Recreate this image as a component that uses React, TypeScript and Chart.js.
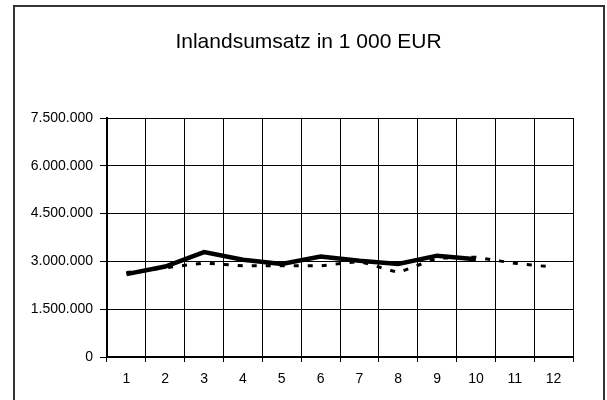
import React, { useEffect, useRef } from "react";
import { Chart, registerables } from "chart.js";

Chart.register(...registerables);

const titleText = "Inlandsumsatz in 1 000 EUR";
const months = ["1", "2", "3", "4", "5", "6", "7", "8", "9", "10", "11", "12"];
const seriesCurrent = [2600000, 2840000, 3290000, 3050000, 2920000, 3150000, 3020000, 2920000, 3180000, 3070000, null, null];
const seriesPrevious = [2650000, 2800000, 2950000, 2860000, 2860000, 2860000, 3000000, 2650000, 3100000, 3130000, 2940000, 2820000];
const yMin = 0;
const yMax = 7500000;
const yStep = 1500000;

const fmt = (v: number) => String(Math.round(v)).replace(/\B(?=(\d{3})+(?!\d))/g, ".");

const FONT = "'Liberation Sans', Arial, sans-serif";

const titlePlugin = {
  id: "fixedTitle",
  afterDraw(chart: any) {
    const ctx = chart.ctx;
    ctx.save();
    ctx.fillStyle = "#000";
    ctx.font = `normal 21px ${FONT}`;
    ctx.textAlign = "center";
    ctx.textBaseline = "alphabetic";
    ctx.fillText(titleText, 308.5, 48);
    ctx.restore();
  },
};

export default function App() {
  const ref = useRef<HTMLCanvasElement | null>(null);

  useEffect(() => {
    if (!ref.current) return;
    const chart = new Chart(ref.current, {
      type: "line",
      data: {
        labels: months,
        datasets: [
          {
            data: seriesCurrent,
            borderColor: "#000",
            borderWidth: 4.5,
            pointRadius: 0,
            tension: 0,
            fill: false,
            spanGaps: false,
          },
          {
            data: seriesPrevious,
            borderColor: "#000",
            borderWidth: 3,
            borderDash: [5, 9],
            pointRadius: 0,
            tension: 0,
            fill: false,
          },
        ],
      },
      options: {
        responsive: false,
        animation: false,
        devicePixelRatio: 1,
        layout: { padding: { left: 20, right: 34, top: 118, bottom: 0 } },
        plugins: {
          legend: { display: false },
          tooltip: { enabled: false },
          title: { display: false },
        },
        scales: {
          x: {
            offset: true,
            grid: {
              offset: true,
              color: "#000",
              lineWidth: 1,
              tickLength: 5,
              tickColor: "#000",
              drawOnChartArea: true,
            },
            border: { color: "#000", width: 2 },
            ticks: {
              color: "#000",
              font: { family: FONT, size: 14 },
              padding: 9,
              maxRotation: 0,
              autoSkip: false,
            },
            afterFit: (scale: any) => {
              scale.height = 43;
            },
          },
          y: {
            min: yMin,
            max: yMax,
            grid: { color: "#000", lineWidth: 1, tickLength: 7, tickColor: "#000" },
            border: { color: "#000", width: 2 },
            ticks: {
              stepSize: yStep,
              color: "#000",
              font: { family: FONT, size: 14 },
              padding: 7,
              callback: (v: any) => fmt(Number(v)),
            },
            afterFit: (scale: any) => {
              scale.width = 87;
            },
          },
        },
      },
      plugins: [titlePlugin],
    });
    return () => chart.destroy();
  }, []);

  return (
    <div style={{ position: "fixed", left: 0, top: 0, width: 607, height: 400, background: "#fff", overflow: "hidden" }}>
      <div
        style={{
          position: "absolute",
          left: 13,
          top: 5,
          width: 592,
          height: 410,
          border: "2px solid #333",
          boxSizing: "border-box",
        }}
      />
      <canvas ref={ref} width={607} height={400} style={{ position: "absolute", left: 0, top: 0, width: 607, height: 400 }} />
    </div>
  );
}
